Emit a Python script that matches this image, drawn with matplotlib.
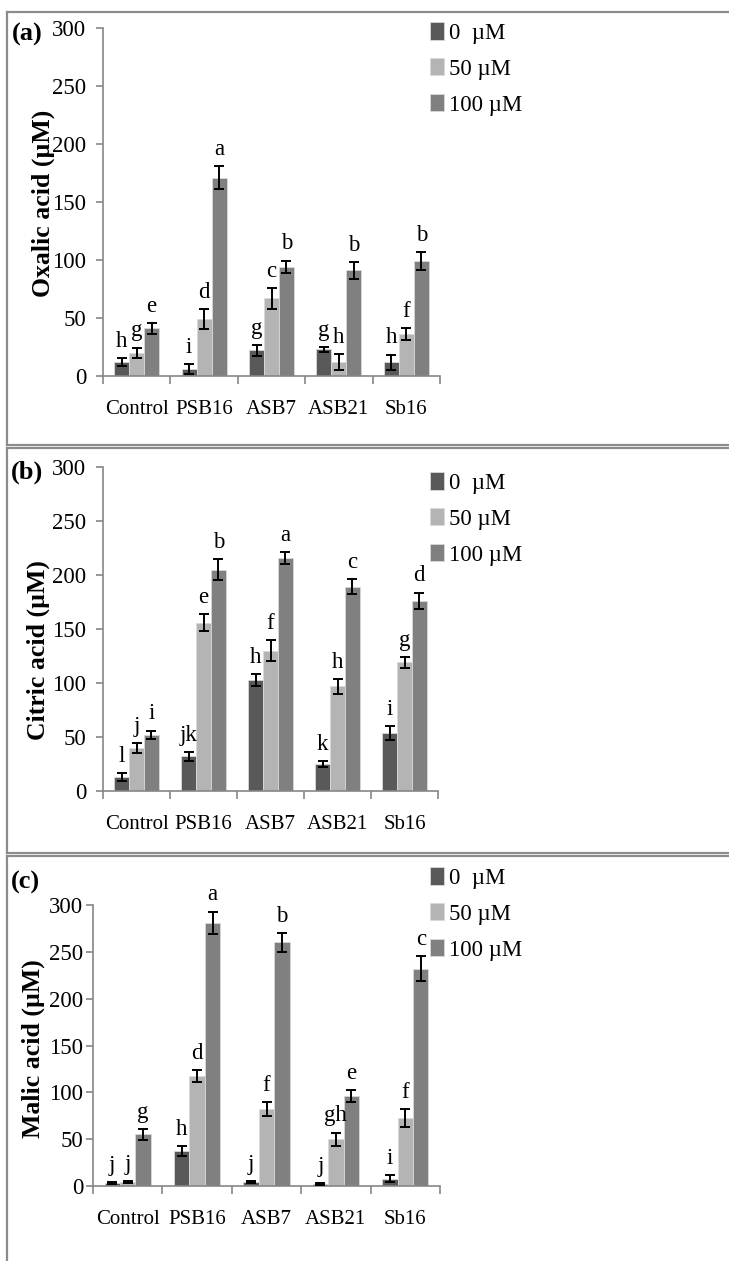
import numpy as np
import matplotlib
matplotlib.use("Agg")
import matplotlib.pyplot as plt
from matplotlib.lines import Line2D

plt.rcParams['font.family'] = ['Liberation Serif', 'DejaVu Serif']

# Data
strains = ['Control', 'PSB16', 'ASB7', 'ASB21', 'Sb16']
doses = ['0  \u00b5M', '50 \u00b5M', '100 \u00b5M']
colors = ['#595959', '#b4b4b4', '#808080']

oxalic = [[12, 6, 22, 23, 12],
          [20, 49, 67, 12, 36],
          [41, 171, 94, 91, 99]]
oxalic_err = [[3.5, 4, 5, 2, 6.5],
              [4.5, 8.5, 9, 7, 5],
              [4.5, 10, 5.5, 7, 8]]
oxalic_lab = [['h', 'i', 'g', 'g', 'h'],
              ['g', 'd', 'c', 'h', 'f'],
              ['e', 'a', 'b', 'b', 'b']]

citric = [[13, 32, 103, 25, 54],
          [40, 156, 130, 97, 119],
          [52, 205, 216, 189, 176]]
citric_err = [[3.7, 4.3, 5.5, 2.5, 6.5],
              [4.6, 8, 10, 7, 5],
              [4, 10, 5.5, 7, 7.7]]
citric_lab = [['l', 'jk', 'h', 'k', 'i'],
              ['j', 'e', 'f', 'h', 'g'],
              ['i', 'b', 'a', 'c', 'd']]

malic = [[3, 37, 4, 2, 8],
         [4, 117, 82, 50, 73],
         [55, 281, 260, 96, 232]]
malic_err = [[1, 5.5, 1, 1, 4],
             [1, 6.5, 7.5, 7, 9.5],
             [6, 12, 10, 6, 13.5]]
malic_lab = [['j', 'h', 'j', 'j', 'i'],
             ['j', 'd', 'f', 'gh', 'f'],
             ['g', 'a', 'b', 'e', 'c']]

W, H = 729, 1261
fig = plt.figure(figsize=(W / 100, H / 100), dpi=100)

FS = 15
GRAY = '#868686'


def px_axes(left, right, top, bottom):
    return fig.add_axes([left / W, 1 - bottom / H, (right - left) / W, (bottom - top) / H])


def draw_panel(ax, vals, errs, labs, tickpad):
    x = np.arange(len(strains))
    bw = 0.222
    for i in range(3):
        ax.bar(x + (i - 1) * bw, vals[i], width=bw, color=colors[i],
               edgecolor='#d9d9d9', linewidth=0.6, label=doses[i], zorder=2)
        ax.errorbar(x + (i - 1) * bw, vals[i], yerr=errs[i], fmt='none',
                    ecolor='black', elinewidth=1.4, capsize=3.3, capthick=1.4, zorder=3)
        for j in range(len(strains)):
            ax.annotate(labs[i][j], (x[j] + (i - 1) * bw, vals[i][j] + errs[i][j]),
                        xytext=(0, 8), textcoords='offset points',
                        ha='center', va='baseline', fontsize=16.5)
    ax.set_xlim(-0.5, len(strains) - 0.5)
    ax.set_ylim(0, 300)
    ax.set_yticks(range(0, 301, 50))
    ax.set_xticks(x)
    ax.set_xticklabels(strains, fontsize=FS)
    ax.set_xticks(np.arange(-0.5, len(strains), 1.0), minor=True)
    ax.tick_params(axis='x', which='major', length=0, pad=17)
    ax.tick_params(axis='x', which='minor', length=6, color=GRAY, width=1.2)
    ax.tick_params(axis='y', length=5, color=GRAY, width=1.2, pad=tickpad, labelsize=16.5)
    for s in ['top', 'right']:
        ax.spines[s].set_visible(False)
    for s in ['left', 'bottom']:
        ax.spines[s].set_color(GRAY)
        ax.spines[s].set_linewidth(1.2)
    ax.set_facecolor('none')
    return ax


# panel frames
frame_kw = dict(color='#8c8c8c', linewidth=1.6, transform=fig.transFigure)
fig.add_artist(Line2D([7 / W, 1], [1 - 12 / H, 1 - 12 / H], **frame_kw))
fig.add_artist(Line2D([7 / W, 7 / W], [1 - 12 / H, 1 - 445 / H], **frame_kw))
fig.add_artist(Line2D([7 / W, 1], [1 - 445 / H, 1 - 445 / H], **frame_kw))
fig.add_artist(Line2D([7 / W, 1], [1 - 448 / H, 1 - 448 / H], **frame_kw))
fig.add_artist(Line2D([7 / W, 7 / W], [1 - 448 / H, 1 - 853 / H], **frame_kw))
fig.add_artist(Line2D([7 / W, 1], [1 - 853 / H, 1 - 853 / H], **frame_kw))
fig.add_artist(Line2D([7 / W, 1], [1 - 856 / H, 1 - 856 / H], **frame_kw))
fig.add_artist(Line2D([7 / W, 7 / W], [1 - 856 / H, 0], **frame_kw))

ax1 = draw_panel(px_axes(103, 440, 28, 376), oxalic, oxalic_err, oxalic_lab, 7)
ax2 = draw_panel(px_axes(103, 438, 467, 791), citric, citric_err, citric_lab, 7)
ax3 = draw_panel(px_axes(93, 440, 905, 1186), malic, malic_err, malic_lab, 2)

# y labels and panel tags
for ylab, xc, yc in [('Oxalic acid (\u00b5M)', 43, 203),
                     ('Citric acid (\u00b5M)', 38, 650),
                     ('Malic acid (\u00b5M)', 33, 1049)]:
    fig.text(xc / W, 1 - yc / H, ylab, rotation=90, ha='center', va='center',
             fontsize=18.5, fontweight='bold')
for tag, xc, yc in [('(a)', 27, 34), ('(b)', 27, 472), ('(c)', 25, 882)]:
    fig.text(xc / W, 1 - yc / H, tag, ha='center', va='center',
             fontsize=19, fontweight='bold')

# legends
for ax, top in [(ax1, 22), (ax2, 472), (ax3, 867)]:
    ax.legend(loc='upper left', bbox_to_anchor=(430 / W, 1 - top / H),
              bbox_transform=fig.transFigure, frameon=False, fontsize=16.5,
              handlelength=0.6, handleheight=0.8, handletextpad=0.25,
              labelspacing=0.62, borderpad=0, borderaxespad=0)

fig.savefig('out.png', dpi=100)
